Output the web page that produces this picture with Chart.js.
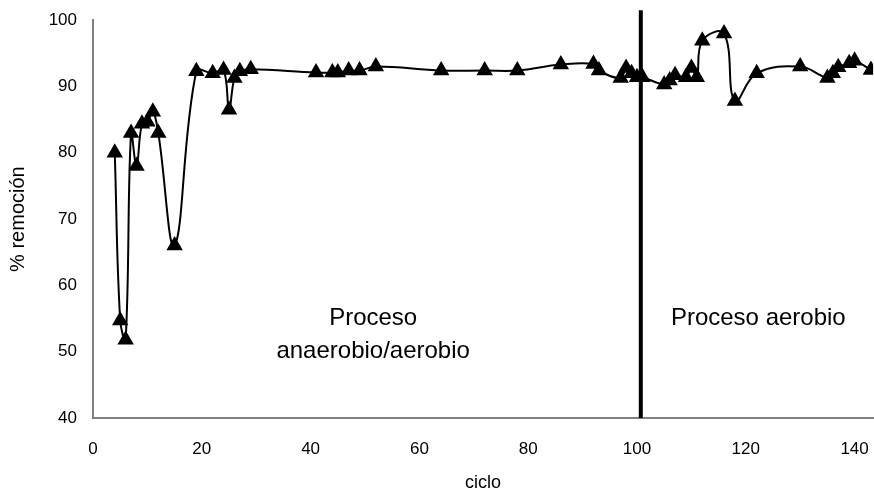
<!DOCTYPE html>
<html>
<head>
<meta charset="utf-8">
<script src="https://cdn.jsdelivr.net/npm/chart.js@4.4.1/dist/chart.umd.min.js"></script>
<style>
  html, body { margin: 0; padding: 0; background: #fff; overflow: hidden; }
  body { width: 874px; height: 501px; }
  canvas { display: block; }
</style>
</head>
<body>
<canvas id="grafico" width="884" height="501"></canvas>
<script>
// ciclo vs % remoción
const ciclos = [4, 5, 6, 7, 8, 9, 10, 11, 12, 15, 19, 22, 24, 25, 26, 27, 29, 41, 44, 45, 47, 49, 52,
  64, 72, 78, 86, 92, 93, 97, 98, 99, 100, 101, 105, 106, 107, 109, 110, 111, 112, 116, 118, 122,
  130, 135, 136, 137, 139, 140, 143];
const remocion = [80, 54.7, 51.8, 83, 78, 84.4, 84.7, 86.2, 83, 66, 92.3, 92, 92.5, 86.5, 91.3, 92.3, 92.6,
  92.1, 92.1, 92.1, 92.4, 92.4, 93, 92.4, 92.4, 92.4, 93.3, 93.4, 92.4, 91.3, 92.8, 92, 91.4, 91.4,
  90.3, 90.9, 91.7, 91.4, 92.8, 91.4, 96.9, 98, 87.8, 92, 93, 91.3, 92, 92.9, 93.5, 93.9, 92.5];

// separación entre procesos
const cambioX = [100.7, 100.7];
const cambioY = [40, 101.5];

const xTicks = [0, 20, 40, 60, 80, 100, 120, 140];
const yTicks = [40, 50, 60, 70, 80, 90, 100];

const puntos = ciclos.map((c, i) => ({ x: c, y: remocion[i] }));
const linea = cambioX.map((c, i) => ({ x: c, y: cambioY[i] }));

const fuente = "'Liberation Sans', Arial, sans-serif";

// textos de los procesos
const etiquetas = {
  id: 'etiquetas',
  afterDatasetsDraw(chart) {
    const ctx = chart.ctx;
    const xs = chart.scales.x, ys = chart.scales.y;
    ctx.save();
    ctx.fillStyle = '#000';
    ctx.font = '24px ' + fuente;
    ctx.textAlign = 'center';
    ctx.textBaseline = 'middle';
    ctx.fillText('Proceso', xs.getPixelForValue(51.5), ys.getPixelForValue(55.1));
    ctx.fillText('anaerobio/aerobio', xs.getPixelForValue(51.5), ys.getPixelForValue(50.1));
    ctx.fillText('Proceso aerobio', xs.getPixelForValue(122.3), ys.getPixelForValue(55.1));
    ctx.restore();
  }
};

new Chart(document.getElementById('grafico'), {
  type: 'line',
  data: {
    datasets: [{
      data: puntos,
      borderColor: '#000',
      backgroundColor: '#000',
      borderWidth: 2,
      tension: 0.4,
      pointStyle: 'triangle',
      pointRadius: 7.5,
      pointHoverRadius: 7.5,
      fill: false
    }, {
      data: linea,
      borderColor: '#000',
      borderWidth: 4,
      pointRadius: 0,
      tension: 0,
      clip: false,
      fill: false
    }]
  },
  options: {
    responsive: false,
    animation: false,
    layout: { padding: { top: 18, right: 0, bottom: 0, left: 0 } },
    plugins: { legend: { display: false }, tooltip: { enabled: false } },
    scales: {
      x: {
        type: 'linear',
        min: 0,
        max: 143.4,
        afterBuildTicks: s => { s.ticks = xTicks.map(v => ({ value: v })); },
        afterFit: s => { s.height = 83; },
        grid: { display: false, drawTicks: true, tickLength: 6, tickColor: '#808080' },
        border: { display: true, color: '#808080', width: 2 },
        ticks: { color: '#000', font: { family: fuente, size: 17 }, padding: 15, maxRotation: 0 },
        title: { display: true, text: 'ciclo', color: '#000', font: { family: fuente, size: 18 }, padding: { top: 4, bottom: 7 } }
      },
      y: {
        min: 40,
        max: 100,
        afterBuildTicks: s => { s.ticks = yTicks.map(v => ({ value: v })); },
        afterFit: s => { s.width = 93; },
        grid: { display: false, drawTicks: true, tickLength: 6, tickColor: '#808080' },
        border: { display: true, color: '#808080', width: 2 },
        ticks: { color: '#000', font: { family: fuente, size: 17 }, padding: 10 },
        title: { display: true, text: '% remoción', color: '#000', font: { family: fuente, size: 20 }, padding: { top: 6, bottom: 0 } }
      }
    }
  },
  plugins: [etiquetas]
});
</script>
</body>
</html>
